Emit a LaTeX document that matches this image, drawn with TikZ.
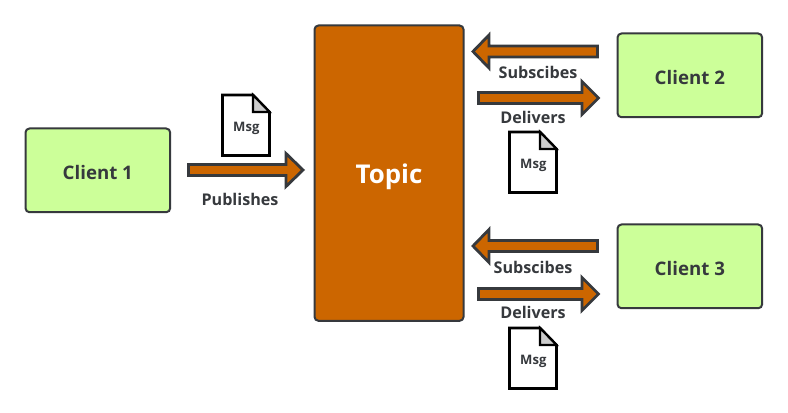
\documentclass[tikz,border=0pt]{standalone}
\usepackage{fontspec}
\setmainfont{Open Sans}
\definecolor{topicc}{HTML}{CC6600}
\definecolor{clientc}{HTML}{CCFF99}
\definecolor{linec}{HTML}{36393D}
\definecolor{foldc}{HTML}{CCCCCC}
\tikzset{
  clientbox/.style={draw=linec,line width=1.5pt,fill=clientc,rounded corners=3pt,anchor=north west,inner sep=0pt,text=linec,text height=13pt,text depth=0pt,font=\bfseries\fontsize{14}{17}\selectfont},
  topicbox/.style={draw=linec,line width=1.5pt,fill=topicc,rounded corners=3pt,anchor=north west,inner sep=0pt,text=white,text height=16pt,text depth=0pt,font=\bfseries\fontsize{19.4}{23}\selectfont},
  blockarrow/.style={draw=linec,line width=2.1pt,fill=topicc,miter limit=10},
  lbl/.style={text=linec,inner sep=0pt,font=\bfseries\fontsize{12.1}{15}\selectfont},
  msgtext/.style={text=linec,inner sep=0pt,font=\bfseries\fontsize{9.8}{12}\selectfont},
  docline/.style={draw=black,line width=2pt,line join=miter},
}
% tail x, centre y, head base x, tip x
\newcommand{\blockarr}[4]{\draw[blockarrow] (#1,#2-5.5) -- (#3,#2-5.5) -- (#3,#2-16.5) -- (#4,#2) -- (#3,#2+16.5) -- (#3,#2+5.5) -- (#1,#2+5.5) -- cycle;}
% left x, top y, name
\newcommand{\msgdoc}[3]{%
  \draw[docline,fill=white] (#1,#2) -- (#1+30.5,#2) -- (#1+47,#2+17) -- (#1+47,#2+60.5) -- (#1,#2+60.5) -- cycle;
  \draw[docline,line width=1.6pt,fill=foldc] (#1+30.5,#2) -- (#1+47,#2+17) -- (#1+30.5,#2+17) -- cycle;
  \node[msgtext] (#3) at (#1+23.8,#2+33) {Msg};}
\begin{document}
\begin{tikzpicture}[x=0.75pt,y=-0.75pt]
\useasboundingbox[fill=white] (0,0) rectangle (788,413);
\node[topicbox,minimum width=111.8pt,minimum height=221.5pt] (topic) at (313.5,24.5) {Topic};
\node[clientbox,minimum width=108.5pt,minimum height=62.8pt] (c1) at (24.5,127.5) {Client 1};
\node[clientbox,minimum width=108.5pt,minimum height=62.8pt] (c2) at (616.5,32.5) {Client 2};
\node[clientbox,minimum width=108.5pt,minimum height=62.8pt] (c3) at (616.5,223.5) {Client 3};
\msgdoc{222.5}{95}{m1}
\msgdoc{509.5}{132}{m2}
\msgdoc{509.5}{328}{m3}
\blockarr{188.5}{170}{286}{303}
\blockarr{597.5}{51.5}{489}{473}
\blockarr{478.5}{98}{582}{598.5}
\blockarr{597.5}{246}{489}{473}
\blockarr{478.5}{294}{582}{598.5}
\node[lbl] (l1) at (240,199) {Publishes};
\node[lbl] (l2) at (538,72) {Subscibes};
\node[lbl] (l3) at (533,117) {Delivers};
\node[lbl] (l4) at (533,267) {Subscibes};
\node[lbl] (l5) at (533,312) {Delivers};
\end{tikzpicture}
\end{document}
